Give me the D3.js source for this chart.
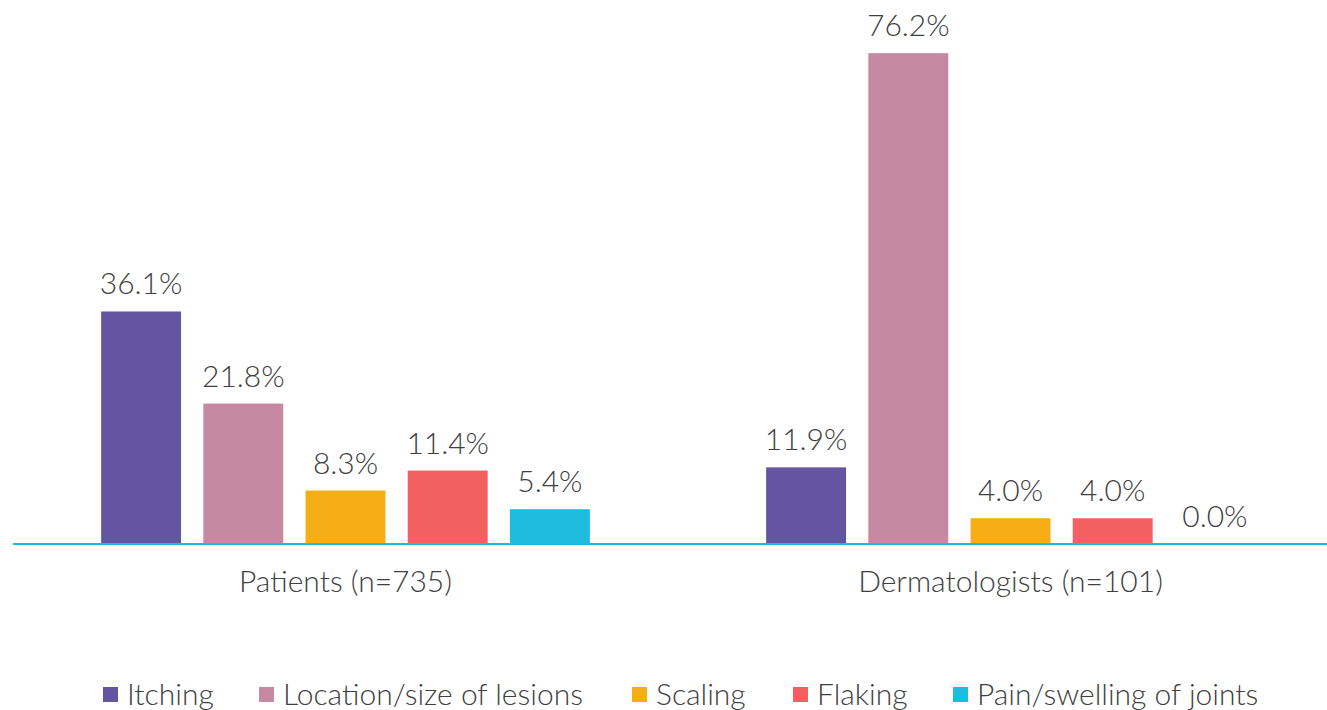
<!DOCTYPE html>
<html>
<head>
<meta charset="utf-8">
<script src="https://cdn.jsdelivr.net/npm/d3@7"></script>
<style>
  body { margin: 0; background: #fff; }
  text { font-family: Lato, "Open Sans", sans-serif; font-weight: 300; fill: #404040; }
</style>
</head>
<body>
<svg class="chart"></svg>
<script>
// Data
var groups = ['Patients (n=735)', 'Dermatologists (n=101)'];
var series = ['Itching', 'Location/size of lesions', 'Scaling', 'Flaking', 'Pain/swelling of joints'];
var patients = [36.1, 21.8, 8.3, 11.4, 5.4];
var dermatologists = [11.9, 76.2, 4.0, 4.0, 0.0];
var colors = ['#63559f', '#c589a2', '#f6ae16', '#f26060', '#1dbbdd'];

var width = 1327, height = 710;
var baseline = 544;

var svg = d3.select('.chart').attr('width', width).attr('height', height);

var rows = [patients, dermatologists];
var data = groups.map(function (g, i) {
    return { group: g, values: series.map(function (s, j) { return { key: s, value: rows[i][j] }; }) };
});

// Scales
var x0 = d3.scaleBand().domain(groups).range([13, 1343]).padding(0);
var x1 = d3.scaleBand().domain(series).range([77, 588]).paddingInner(0.218).paddingOuter(0.109);
var y = d3.scaleLinear().domain([0, 80]).range([baseline, baseline - 515.3]);
var color = d3.scaleOrdinal().domain(series).range(colors);

var g = svg.selectAll('.group')
    .data(data)
    .enter()
    .append('g')
    .attr('class', 'group')
    .attr('transform', function (d) { return 'translate(' + x0(d.group) + ',0)'; });

g.selectAll('rect')
    .data(function (d) { return d.values; })
    .enter()
    .append('rect')
    .attr('x', function (d) { return x1(d.key); })
    .attr('y', function (d) { return y(d.value); })
    .attr('width', x1.bandwidth())
    .attr('height', function (d) { return baseline - y(d.value); })
    .attr('fill', function (d) { return color(d.key); });

// value labels
g.selectAll('.val')
    .data(function (d) { return d.values; })
    .enter()
    .append('text')
    .attr('class', 'val')
    .attr('x', function (d) { return x1(d.key) + x1.bandwidth() / 2; })
    .attr('y', function (d) { return y(d.value) - 17; })
    .attr('text-anchor', 'middle')
    .style('font-size', '30px')
    .text(function (d) { return d.value.toFixed(1) + '%'; });

// x axis
var xAxis = d3.axisBottom(x0).tickSize(0);
var ax = svg.append('g')
    .attr('transform', 'translate(0,' + baseline + ')')
    .call(xAxis);
ax.select('.domain').attr('stroke', '#1dbbdd').attr('stroke-width', 2).attr('d', 'M13,0H1327');
ax.selectAll('text')
    .attr('y', 48)
    .attr('dy', 0)
    .attr('fill', '#404040')
    .style('font-size', '30px');

// legend
var legendX = [103, 259, 632, 793, 953];
var legend = svg.append('g').attr('class', 'legend');
var li = legend.selectAll('g')
    .data(series)
    .enter()
    .append('g')
    .attr('transform', function (d, i) { return 'translate(' + legendX[i] + ',687)'; });
li.append('rect')
    .attr('width', 15)
    .attr('height', 15)
    .attr('fill', function (d) { return color(d); });
li.append('text')
    .attr('x', 24)
    .attr('y', 18)
    .style('font-size', '30px')
    .text(function (d) { return d; });
</script>
</body>
</html>
